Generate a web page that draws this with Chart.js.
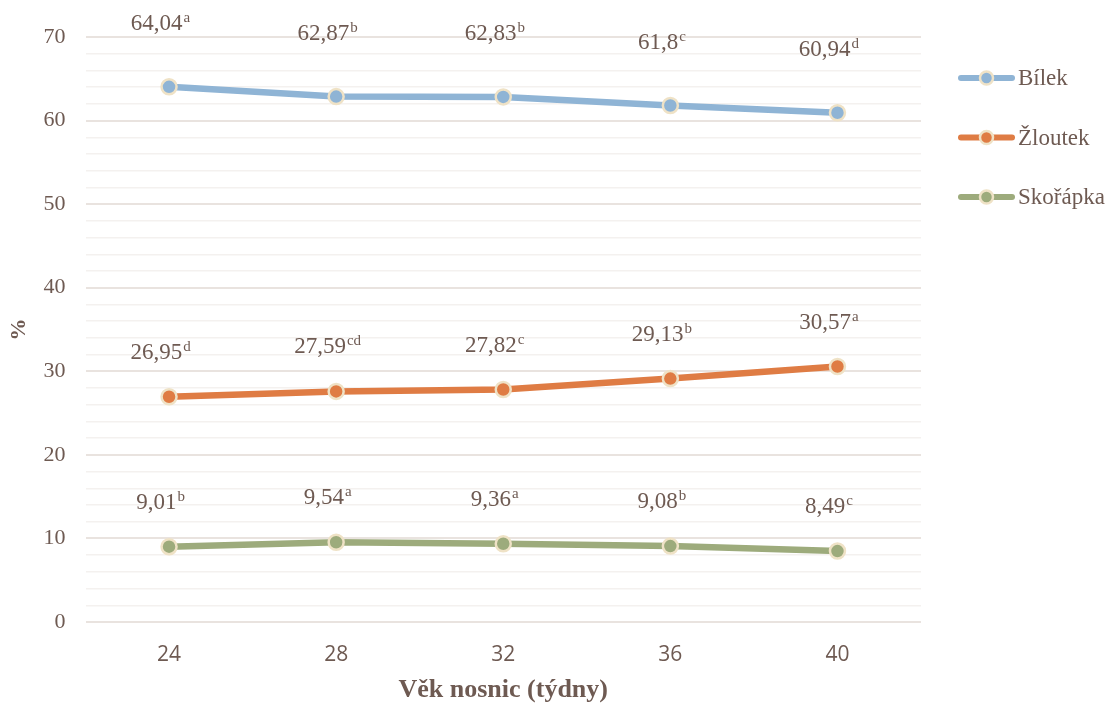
<!doctype html>
<html lang="cs">

<head>
    <meta charset="utf-8">
    <title>Podíl složek vejce</title>
    <script src="https://cdn.jsdelivr.net/npm/chart.js@4.4.0/dist/chart.umd.min.js"></script>
    <style>
        html, body { margin: 0; padding: 0; background: #fff; }
        #wrap { width: 1112px; height: 706px; position: relative; }
    </style>
</head>

<body>
    <div id="wrap">
        <canvas id="myChart" width="1112" height="706"></canvas>
    </div>
</body>
<script>
    // data
    let weeks = ["24", "28", "32", "36", "40"];
    let bilek = [64.04, 62.87, 62.83, 61.8, 60.94];
    let zloutek = [26.95, 27.59, 27.82, 29.13, 30.57];
    let skorapka = [9.01, 9.54, 9.36, 9.08, 8.49];
    let bilekSup = ["a", "b", "b", "c", "d"];
    let zloutekSup = ["d", "cd", "c", "b", "a"];
    let skorapkaSup = ["b", "a", "a", "b", "c"];
    let seriesNames = ["Bílek", "Žloutek", "Skořápka"];

    const textColor = "#6e5a52";
    const serif = "'Liberation Serif', 'Times New Roman', serif";

    let fmt = (v) => String(v).replace(".", ",");

    // value labels with superscript letters
    let valueLabels = {
        id: "valueLabels",
        afterDatasetsDraw(chart, args, opts) {
            let ctx = chart.ctx;
            ctx.save();
            chart.data.datasets.forEach((ds, i) => {
                let meta = chart.getDatasetMeta(i);
                meta.data.forEach((pt, j) => {
                    let main = fmt(ds.data[j]);
                    let sup = ds.sup[j];
                    ctx.font = "23px " + serif;
                    let w1 = ctx.measureText(main).width;
                    ctx.font = "15px " + serif;
                    let w2 = ctx.measureText(sup).width;
                    let x0 = pt.x - 9 - (w1 + w2) / 2;
                    let y0 = pt.y - ds.labelOffset;
                    ctx.fillStyle = textColor;
                    ctx.textBaseline = "alphabetic";
                    ctx.textAlign = "left";
                    ctx.font = "23px " + serif;
                    ctx.fillText(main, x0, y0);
                    ctx.font = "15px " + serif;
                    ctx.fillText(sup, x0 + w1 + 1, y0 - 8);
                });
            });
            ctx.restore();
        }
    };

    // legend on the right
    let sideLegend = {
        id: "sideLegend",
        afterDraw(chart) {
            let ctx = chart.ctx;
            ctx.save();
            chart.data.datasets.forEach((ds, i) => {
                let y = 78 + i * 59.5;
                ctx.strokeStyle = ds.borderColor;
                ctx.lineWidth = 6;
                ctx.lineCap = "round";
                ctx.beginPath();
                ctx.moveTo(961, y);
                ctx.lineTo(1012, y);
                ctx.stroke();
                ctx.beginPath();
                ctx.arc(986.5, y, 6.5, 0, Math.PI * 2);
                ctx.fillStyle = ds.pointBackgroundColor;
                ctx.fill();
                ctx.lineWidth = 2.5;
                ctx.strokeStyle = ds.pointBorderColor;
                ctx.stroke();
                ctx.fillStyle = textColor;
                ctx.font = "23px " + serif;
                ctx.textBaseline = "middle";
                ctx.fillText(ds.label, 1018, y + 1);
            });
            ctx.restore();
        }
    };

    let makeSet = (label, data, sup, color, offset) => ({
        label: label,
        data: data,
        sup: sup,
        labelOffset: offset,
        borderColor: color,
        borderWidth: 6.5,
        pointRadius: 7.5,
        pointHoverRadius: 7.5,
        pointBackgroundColor: color,
        pointBorderColor: "#efe2c6",
        pointBorderWidth: 2.5,
        tension: 0
    });

    let showChart = () => {
        new Chart(document.getElementById("myChart"), {
            type: "line",
            data: {
                labels: weeks,
                datasets: [
                    makeSet(seriesNames[0], bilek, bilekSup, "#8fb4d5", 57),
                    makeSet(seriesNames[1], zloutek, zloutekSup, "#df7c44", 38),
                    makeSet(seriesNames[2], skorapka, skorapkaSup, "#9dab7c", 38)
                ]
            },
            options: {
                responsive: false,
                animation: false,
                layout: { padding: { top: 37, right: 191, left: 0, bottom: 0 } },
                plugins: {
                    legend: { display: false },
                    tooltip: { enabled: false }
                },
                scales: {
                    x: {
                        offset: true,
                        grid: { display: false },
                        border: { display: false },
                        ticks: {
                            color: textColor,
                            font: { family: "'Open Sans', 'Noto Sans', sans-serif", size: 21 },
                            padding: 12
                        },
                        title: {
                            display: true,
                            text: "Věk nosnic (týdny)",
                            color: textColor,
                            font: { family: serif, size: 26, weight: "bold" },
                            padding: { top: 6, bottom: 0 }
                        },
                        afterFit: (s) => { s.height = 84; }
                    },
                    y: {
                        min: 0,
                        max: 70,
                        border: { display: false },
                        grid: {
                            drawTicks: false,
                            lineWidth: (c) => (c.tick && c.tick.value % 10 === 0) ? 2 : 1.5,
                            color: (c) => (c.tick && c.tick.value % 10 === 0) ? "#e9e3df" : "#f4f1ef"
                        },
                        ticks: {
                            stepSize: 2,
                            autoSkip: false,
                            color: textColor,
                            padding: 20,
                            font: { family: serif, size: 22 },
                            callback: (v) => (v % 10 === 0 ? v : "")
                        },
                        title: {
                            display: true,
                            text: "%",
                            color: textColor,
                            font: { family: serif, size: 22, weight: "bold" },
                            padding: { top: 6, bottom: 0 }
                        },
                        afterFit: (s) => { s.width = 85.5; }
                    }
                }
            },
            plugins: [valueLabels, sideLegend]
        });
    };

    showChart();
</script>

</html>
